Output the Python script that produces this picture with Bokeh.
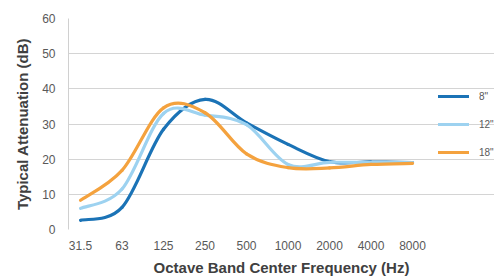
from bokeh.plotting import figure
from bokeh.models import Range1d, FixedTicker, Legend, LegendItem
from bokeh.embed import file_html
from bokeh.resources import INLINE

freq_labels = ["31.5", "63", "125", "250", "500", "1000", "2000", "4000", "8000"]
series_names = ['8"', '12"', '18"']
att_8 = [2.6, 6.3, 28.5, 37.0, 30.3, 24.2, 19.3, 19.2, 19.0]
att_12 = [6.0, 11.5, 33.0, 32.5, 29.8, 18.5, 19.1, 19.0, 19.0]
att_18 = [8.3, 16.8, 34.6, 33.2, 21.5, 17.6, 17.5, 18.5, 18.8]
colors = ["#1b73b6", "#9dd2f0", "#f4a23e"]

FONT = "Liberation Sans"
X0, X1 = -0.29, 8.36
FW = 426

p = figure(output_backend="svg", toolbar_location=None,
           frame_width=FW, frame_height=211,
           x_range=Range1d(X0, X0 + FW / 41.5), y_range=Range1d(0, 60),
           min_border_left=68, min_border_right=0, min_border_top=18, min_border_bottom=47)
p.outline_line_color = None
p.background_fill_color = "white"
p.border_fill_color = "white"

xs = list(range(len(freq_labels)))


def smooth(xv, yv):
    # Bezier control points (Catmull-Rom style smoothing, like spreadsheet smoothed lines)
    n = len(xv)
    P = list(zip(xv, yv))
    x0, y0, x1, y1, cx0, cy0, cx1, cy1 = ([] for _ in range(8))
    for i in range(n - 1):
        pm = P[i - 1] if i > 0 else P[i]
        p0 = P[i]
        p1 = P[i + 1]
        p2 = P[i + 2] if i + 2 < n else P[i + 1]
        x0.append(p0[0]); y0.append(p0[1])
        x1.append(p1[0]); y1.append(p1[1])
        cx0.append(p0[0] + (p1[0] - pm[0]) / 6); cy0.append(p0[1] + (p1[1] - pm[1]) / 6)
        cx1.append(p1[0] - (p2[0] - p0[0]) / 6); cy1.append(p1[1] - (p2[1] - p0[1]) / 6)
    return dict(x0=x0, y0=y0, x1=x1, y1=y1, cx0=cx0, cy0=cy0, cx1=cx1, cy1=cy1)


items = []
for name, vals, col in zip(series_names, [att_8, att_12, att_18], colors):
    d = smooth(xs, vals)
    r = p.bezier(x0=d["x0"], y0=d["y0"], x1=d["x1"], y1=d["y1"],
                 cx0=d["cx0"], cy0=d["cy0"], cx1=d["cx1"], cy1=d["cy1"],
                 line_color=col, line_width=3.2, line_cap="round")
    items.append(LegendItem(label=name, renderers=[r]))

legend = Legend(items=items, location=(370, 67), margin=0, padding=0,
                glyph_width=31, glyph_height=20, spacing=8, label_standoff=10,
                label_text_font=FONT, label_text_font_size="10px",
                label_text_color="#595959", border_line_color=None,
                background_fill_alpha=0)
p.add_layout(legend)

# axes
p.xaxis.ticker = FixedTicker(ticks=xs)
p.xaxis.major_label_overrides = {i: lab for i, lab in enumerate(freq_labels)}
p.yaxis.ticker = FixedTicker(ticks=[0, 10, 20, 30, 40, 50, 60])

for ax in (p.xaxis, p.yaxis):
    ax.major_tick_line_color = None
    ax.minor_tick_line_color = None
    ax.major_tick_out = 0
    ax.major_tick_in = 0
    ax.minor_tick_out = 0
    ax.minor_tick_in = 0
    ax.major_label_text_font = FONT
    ax.major_label_text_font_size = "12px"
    ax.major_label_text_color = "#595959"
    ax.axis_label_text_font = FONT
    ax.axis_label_text_font_size = "15px"
    ax.axis_label_text_font_style = "bold"
    ax.axis_label_text_color = "#404040"
    ax.axis_line_color = "#d0d0d0"

p.xaxis.axis_line_color = None
p.xaxis.major_label_standoff = 11
p.xaxis.axis_label = "Octave Band Center Frequency (Hz)"
p.xaxis.axis_label_standoff = 6
p.yaxis.major_label_standoff = 13
p.yaxis.axis_label = "Typical Attenuation (dB)"
p.yaxis.axis_label_standoff = 8

p.xgrid.grid_line_color = None
p.ygrid.grid_line_color = "#d4d4d4"
p.ygrid.grid_line_width = 1
p.ygrid.bounds = (X0, X1)

open("out.html", "w").write(file_html(p, INLINE))
